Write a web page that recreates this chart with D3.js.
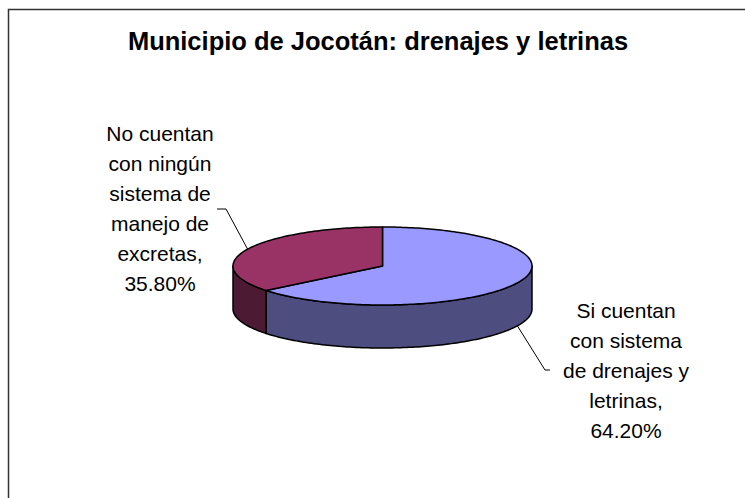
<!DOCTYPE html>
<html>
<head>
<meta charset="utf-8">
<script src="https://cdn.jsdelivr.net/npm/d3@7"></script>
<style>
    body { margin: 0; background: #fff; }
    text { font-family: "Liberation Sans", Arial, sans-serif; fill: #000; }
</style>
</head>
<body>
<script>
// chart data
const title = "Municipio de Jocotán: drenajes y letrinas";
const categories = ["Si cuentan con sistema de drenajes y letrinas", "No cuentan con ningún sistema de manejo de excretas"];
const values = [64.2, 35.8];
const labelLines = [
    ["Si cuentan", "con sistema", "de drenajes y", "letrinas,"],
    ["No cuentan", "con ningún", "sistema de", "manejo de", "excretas,"]
];
const topColors = ["#9999ff", "#993366"];
const sideColors = ["#4d4d80", "#4d1a33"];

const width = 745, height = 498;
const cx = 382.5, cy = 266, rx = 149.5, ry = 39, depth = 43;

let svg = d3.select("body").append("svg")
    .attr("width", width)
    .attr("height", height);

// chart area border (runs off the right and bottom)
svg.append("rect")
    .attr("x", 8.5).attr("y", 9.5)
    .attr("width", 800).attr("height", 600)
    .attr("fill", "none")
    .attr("stroke", "#333")
    .attr("stroke-width", 1.5);

svg.append("text")
    .attr("x", 378).attr("y", 50)
    .attr("text-anchor", "middle")
    .attr("font-size", 25.5)
    .attr("font-weight", "bold")
    .text(title);

let pie = d3.pie().sort(null)(values);

// point on the ellipse for an angle measured clockwise from 12 o'clock
const px = a => cx + rx * Math.sin(a);
const py = a => cy - ry * Math.cos(a);

function arcPoints(a0, a1, dy) {
    let pts = [];
    let n = Math.max(2, Math.ceil((a1 - a0) / 0.02));
    for (let i = 0; i <= n; i++) {
        let a = a0 + (a1 - a0) * i / n;
        pts.push([px(a), py(a) + dy]);
    }
    return pts;
}

let line = d3.line();

// side walls (only the front half is visible)
pie.forEach((d, i) => {
    let a0 = Math.max(d.startAngle, Math.PI / 2);
    let a1 = Math.min(d.endAngle, 3 * Math.PI / 2);
    if (a1 <= a0) return;
    let top = arcPoints(a0, a1, 0);
    let bottom = arcPoints(a0, a1, depth).reverse();
    svg.append("path")
        .attr("d", line(top.concat(bottom)) + "Z")
        .attr("fill", sideColors[i])
        .attr("stroke", "#000")
        .attr("stroke-width", 1.5)
        .attr("stroke-linejoin", "round");
});

// top faces
pie.forEach((d, i) => {
    let pts = [[cx, cy]].concat(arcPoints(d.startAngle, d.endAngle, 0));
    svg.append("path")
        .attr("d", line(pts) + "Z")
        .attr("fill", topColors[i])
        .attr("stroke", "#000")
        .attr("stroke-width", 1.5)
        .attr("stroke-linejoin", "round");
});

// labels with leader lines
const pct = v => d3.format(".2f")(v) + "%";
const labelPos = [
    { x: 626, y: 317.5, elbow: [545, 370], end: [550, 370], onSide: true },
    { x: 160, y: 140.5, elbow: [226, 209], end: [217, 209], onSide: false }
];

pie.forEach((d, i) => {
    let mid = (d.startAngle + d.endAngle) / 2;
    let p = labelPos[i];
    let start = [px(mid), py(mid) + (p.onSide ? depth : 0)];
    svg.append("path")
        .attr("d", line([start, p.elbow, p.end]))
        .attr("fill", "none")
        .attr("stroke", "#000")
        .attr("stroke-width", 1);

    let t = svg.append("text")
        .attr("text-anchor", "middle")
        .attr("font-size", 21);
    labelLines[i].concat([pct(values[i])]).forEach((s, j) => {
        t.append("tspan")
            .attr("x", p.x)
            .attr("y", p.y + j * 30)
            .text(s);
    });
});
</script>
</body>
</html>
